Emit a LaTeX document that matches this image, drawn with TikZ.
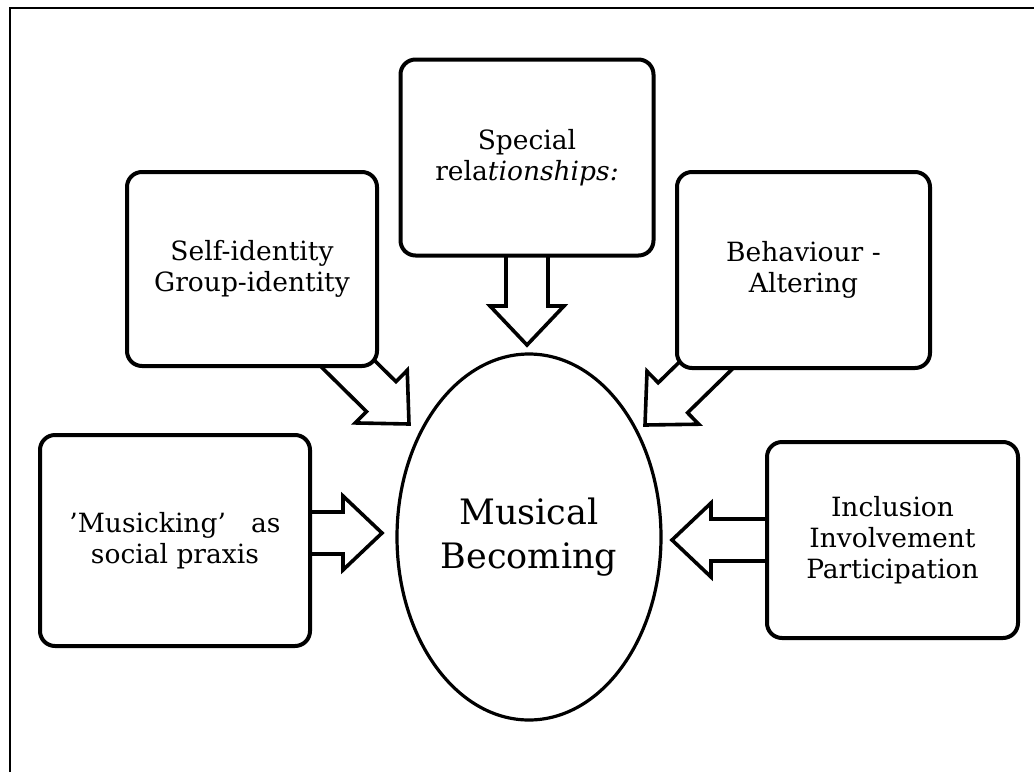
\documentclass[tikz,border=0pt]{standalone}
\usepackage{fontspec}
\setmainfont{DejaVu Serif}
\usetikzlibrary{calc,shapes.geometric}
\pgfdeclarelayer{bg}
\pgfsetlayers{bg,main}

\tikzset{
  box/.style={draw, line width=4pt, rounded corners=15pt, fill=white,
    align=center, inner sep=0pt, font=\fontsize{26.5}{31}\selectfont},
  hub/.style={draw, ellipse, line width=3.2pt, fill=white, inner sep=0pt,
    align=center, minimum width=264pt, minimum height=366pt,
    font=\fontsize{35}{44}\selectfont},
  frame/.style={line width=2pt},
  % hollow block arrow drawn from the start point to the tip
  blockarrow/.style={draw, line width=3.6pt, fill=white, line join=miter,
    to path={
      ($(\tikztotarget)!39pt!(\tikztostart)$) coordinate (hb)
      ($(\tikztostart)!21pt!90:(\tikztotarget)$)
      -- ($(hb)!21pt!90:(\tikztotarget)$)
      -- ($(hb)!37pt!90:(\tikztotarget)$)
      -- (\tikztotarget)
      -- ($(hb)!37pt!-90:(\tikztotarget)$)
      -- ($(hb)!21pt!-90:(\tikztotarget)$)
      -- ($(\tikztostart)!21pt!-90:(\tikztotarget)$)
      -- cycle}}
}

\begin{document}
\begin{tikzpicture}[x=1pt, y=-1pt]
\useasboundingbox (0,0) rectangle (1034,772);

% outer frame (left and top edges)
\coordinate (fb) at (10,772);
\coordinate (fc) at (10,8);
\coordinate (fr) at (1034,8);
\draw[frame] (fb) -- (fc) -- (fr);

% centre
\node[hub] (mb) at (529,537) {Musical\\Becoming};

% surrounding boxes
\node[box, minimum width=253pt, minimum height=196pt] (special) at (527,157.5)
  {Special\\rela\textit{tionships:}};
\node[box, minimum width=250pt, minimum height=194pt] (self) at (252,269)
  {Self-identity\\Group-identity};
\node[box, minimum width=253pt, minimum height=196pt] (behav) at (803.5,270)
  {Behaviour -\\Altering};
\node[box, minimum width=270pt, minimum height=211pt] (musick) at (175,540.5)
  {\symbol{39}Musicking\symbol{39}~~ as\\social praxis};
\node[box, minimum width=251pt, minimum height=196pt] (incl) at (892.5,540)
  {Inclusion\\Involvement\\Participation};

% arrow tips
\coordinate (tipT) at (527,345);
\coordinate (tipL) at (382,533);
\coordinate (tipR) at (672,540);
\coordinate (tipSL) at (409,424);
\coordinate (tipSR) at (645,425);

\begin{pgfonlayer}{bg}
\draw[blockarrow] (special.center -| tipT) to (tipT);
\draw[blockarrow] (self.center) to (tipSL);
\draw[blockarrow] (behav.center) to (tipSR);
\draw[blockarrow] (musick.center |- tipL) to (tipL);
\draw[blockarrow] (incl.center |- tipR) to (tipR);
\end{pgfonlayer}
\end{tikzpicture}
\end{document}
